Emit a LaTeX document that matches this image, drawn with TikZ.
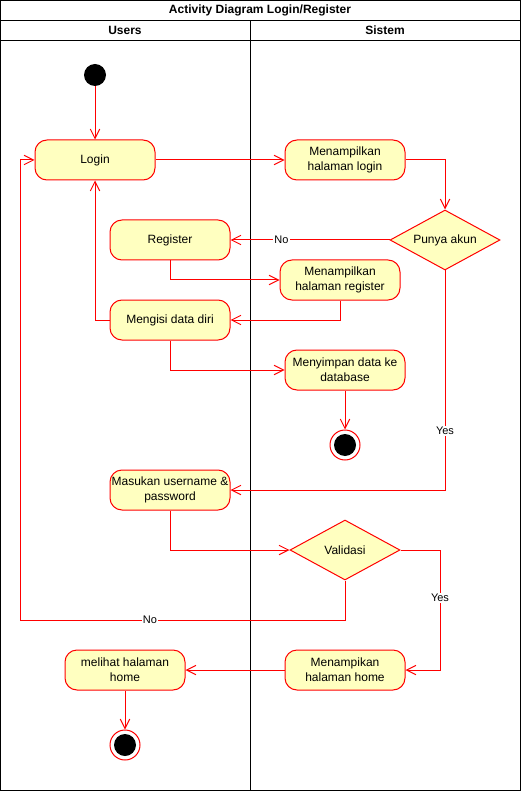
\documentclass[tikz,border=0pt]{standalone}
\usepackage{fontspec}
\setmainfont{Liberation Sans}
\usetikzlibrary{arrows.meta,positioning,shapes}
\definecolor{actfill}{HTML}{FFFFC0}
\definecolor{actline}{HTML}{FF0000}
\tikzset{
    %Define standard arrow tip
    >={Straight Barb[length=7pt,width=7pt]},
    %Define style for activity boxes
    act/.style={
           rectangle,
           rounded corners=9pt,
           draw=actline, fill=actfill,
           line width=0.75pt,
           minimum width=90pt,
           minimum height=30pt,
           inner sep=1pt,
           align=center,
           font=\fontsize{9pt}{11pt}\selectfont},
    dec/.style={
           diamond,
           draw=actline, fill=actfill,
           line width=0.75pt,
           aspect=1.83,
           minimum width=82.5pt,
           minimum height=45pt,
           inner sep=0pt,
           font=\fontsize{9pt}{11pt}\selectfont},
    startn/.style={
           circle,
           fill=black,
           minimum size=16.5pt,
           inner sep=0pt},
    endn/.style={
           circle,
           draw=actline, fill=white,
           line width=0.75pt,
           minimum size=22.5pt,
           inner sep=0pt,
           path picture={\fill[black] (path picture bounding box.center) circle (8.25pt);}},
    % Define arrow style
    arr/.style={
           ->,
           draw=actline,
           line width=0.75pt},
    lbl/.style={
           fill=white,
           inner sep=1pt,
           font=\fontsize{8.25pt}{10pt}\selectfont},
    lane/.style={
           draw=black,
           line width=0.75pt},
    head/.style={
           font=\bfseries\fontsize{9pt}{11pt}\selectfont}
}

\begin{document}
\begin{tikzpicture}[x=0.75pt, y=-0.75pt]
    \useasboundingbox (0,0) rectangle (521,791);
    % SWIMLANES
    \draw[lane] (0.5,0.5) rectangle (520.5,790.5);
    \draw[lane] (0.5,20.5) -- (520.5,20.5);
    \draw[lane] (0.5,40.5) -- (520.5,40.5);
    \draw[lane] (250.5,20.5) -- (250.5,790.5);
    \node[head] at (260,10) (title) {Activity Diagram Login/Register};
    \node[head] at (125,30) (users) {Users};
    \node[head] at (385,30) (sistem) {Sistem};

    % USERS
    \node[startn] at (95,75) (start) {};
    \node[act] at (95,160) (login) {Login};
    \node[act] at (170,240) (register) {Register};
    \node[act] at (170,320) (isi) {Mengisi data diri};
    \node[act] at (170,490) (masukan) {Masukan username \&\\password};
    \node[act] at (125,670) (lihat) {melihat halaman\\home};
    \node[endn] at (125,745) (end2) {};

    % SISTEM
    \node[act] at (345,160) (plogin) {Menampilkan\\halaman login};
    \node[dec] at (445,240) (punya) {Punya akun};
    \node[act] at (340,280) (pregister) {Menampilkan\\halaman register};
    \node[act] at (345,370) (simpan) {Menyimpan data ke\\database};
    \node[endn] at (345,445) (end1) {};
    \node[dec] at (345,550) (validasi) {Validasi};
    \node[act] at (345,670) (home) {Menampikan\\halaman home};

    \coordinate (backl) at (20,620);
    \coordinate (yesr) at (440,670);

    % FLOWS
    \draw[arr] (start) -- (login);
    \draw[arr] (login) -- (plogin);
    \draw[arr] (plogin.east) -| (punya.north);
    \draw[arr] (punya.west) -- node[lbl, pos=0.68] {No} (register.east);
    \draw[arr] (register.south) |- (pregister.west);
    \draw[arr] (pregister.south) |- (isi.east);
    \draw[arr] (isi.west) -| (login.south);
    \draw[arr] (isi.south) |- (simpan.west);
    \draw[arr] (simpan) -- (end1);
    \draw[arr] (punya.south) |- node[lbl, pos=0.366] {Yes} (masukan.east);
    \draw[arr] (masukan.south) |- (validasi.west);
    \draw[arr] (validasi.south) |- node[lbl, pos=0.8] {No} (backl) |- (login.west);
    \draw[arr] (validasi.east) -| node[lbl, pos=0.7] {Yes} (yesr) -- (home.east);
    \draw[arr] (home) -- (lihat);
    \draw[arr] (lihat) -- (end2);
\end{tikzpicture}
\end{document}
